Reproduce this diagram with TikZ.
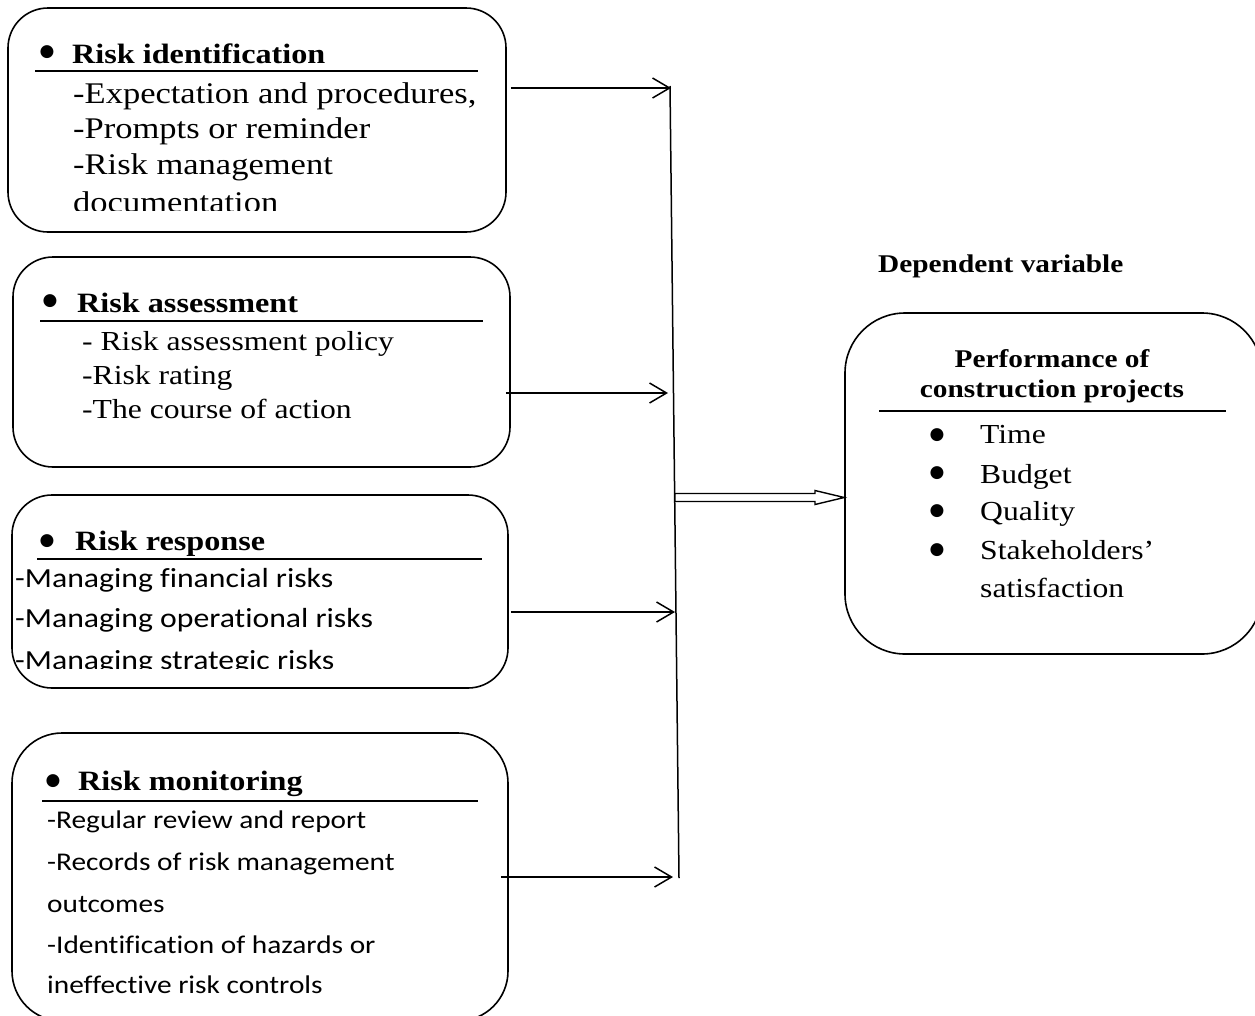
\documentclass[tikz,border=0pt]{standalone}
\usepackage{fontspec}
\setmainfont{Liberation Serif}[FakeStretch=1.15,Ligatures=NoCommon]
\newfontfamily\calib{Carlito}[FakeStretch=1.15,Ligatures=NoCommon]
\newfontfamily\dejavu{DejaVu Sans}
\usetikzlibrary{arrows.meta}
\begin{document}
\begin{tikzpicture}[x=1pt,y=-1pt,
  box/.style={draw, line width=1.6pt, rounded corners=40pt, inner sep=0pt},
  hd/.style={anchor=base west, inner sep=0pt, font=\fontsize{28}{32}\selectfont\bfseries},
  bul/.style={anchor=center, inner sep=0pt, text height=10pt, text depth=0pt, yshift=2.6pt, font=\dejavu\fontsize{17}{17}\selectfont},
  hr/.style={anchor=base, inner sep=0pt, font=\fontsize{25.5}{30}\selectfont\bfseries},
  tx/.style={anchor=base west, inner sep=0pt, font=\fontsize{27.5}{32}\selectfont},
  txa/.style={anchor=base west, inner sep=0pt, font=\fontsize{30}{35}\selectfont},
  cb/.style={anchor=base west, inner sep=0pt, font=\calib\fontsize{27.6}{30}\selectfont},
  cbs/.style={anchor=base west, inner sep=0pt, font=\calib\fontsize{25.5}{30}\selectfont},
  rule/.style={line width=1.4pt},
  conn/.style={line width=1.5pt, -{Straight Barb[length=17pt,width=20pt,line width=1.5pt]}},
  bar/.style={line width=1.5pt},
  hollow/.style={draw, line width=1.4pt, fill=white}]
\useasboundingbox (0,0) rectangle (1255,1015);
\clip (0,0) rectangle (1255,1015);

% ---- boxes ----
\node[box, minimum width=498pt, minimum height=224pt] (b1) at (257,120) {};
\node[box, minimum width=497pt, minimum height=210pt] (b2) at (261.5,362) {};
\node[box, minimum width=496pt, minimum height=193pt] (b3) at (260,591.5) {};
\node[box, rounded corners=50pt, minimum width=496pt, minimum height=288pt] (b4) at (260,877) {};
\node[box, rounded corners=60pt, minimum width=417pt, minimum height=341pt] (b5) at (1053.5,483.5) {};

% ---- box 1 ----
\node[bul] (b1bul) at (47,54) {●};
\node[hd] (b1h) at (72,63) {Risk identification};
\draw[rule] (35,71) -- (478,71);
\begin{scope}
\clip (10,75) rectangle (500,210);
\node[txa] (b1l1) at (73,103) {-Expectation and procedures,};
\node[txa] (b1l2) at (73,138) {-Prompts or reminder};
\node[txa] (b1l3) at (73,174) {-Risk management};
\node[txa] (b1l4) at (73,212) {documentation};
\end{scope}

% ---- box 2 ----
\node[bul] (b2bul) at (50,303.5) {●};
\node[hd] (b2h) at (77,312) {Risk assessment};
\draw[rule] (40,321) -- (483,321);
\node[tx] (b2l1) at (82,350) {- Risk assessment policy};
\node[tx] (b2l2) at (82,384) {-Risk rating};
\node[tx] (b2l3) at (82,418) {-The course of action};

% ---- box 3 ----
\node[bul] (b3bul) at (47,543) {●};
\node[hd] (b3h) at (75,550) {Risk response};
\draw[rule] (37,559) -- (482,559);
\begin{scope}
\clip (14,562) rectangle (505,668);
\node[cb] (b3l1) at (15,587) {-Managing financial risks};
\node[cb] (b3l2) at (15,627) {-Managing operational risks};
\node[cb] (b3l3) at (15,669) {-Managing strategic risks};
\end{scope}

% ---- box 4 ----
\node[bul] (b4bul) at (53,783) {●};
\node[hd] (b4h) at (78,790) {Risk monitoring};
\draw[rule] (42,801) -- (478,801);
\node[cbs] (b4l1) at (47,828) {-Regular review and report};
\node[cbs] (b4l2) at (47,870) {-Records of risk management};
\node[cbs] (b4l3) at (47,912) {outcomes};
\node[cbs] (b4l4) at (47,953) {-Identification of hazards or};
\node[cbs] (b4l5) at (47,993) {ineffective risk controls};

% ---- right box ----
\node[hr, anchor=base west] (dv) at (878,272) {Dependent variable};
\node[hr] (b5h1) at (1052,367) {Performance of};
\node[hr] (b5h2) at (1052,397) {construction projects};
\draw[rule] (879,411) -- (1226,411);
\foreach \yy/\by/\t [count=\i] in {443/437/Time,483/475/Budget,520/513/Quality,559/552/Stakeholders’}{
  \node[bul] (b5bul\i) at (937,\by) {●};
  \node[tx] (b5l\i) at (980,\yy) {\t};
}
\node[tx] (b5l5) at (980,597) {satisfaction};

% ---- connectors ----
\coordinate (barT) at (670,86);
\coordinate (barB) at (679,878);
\coordinate (t1) at (671,88);
\coordinate (t2) at (668,393);
\coordinate (t3) at (675,612);
\coordinate (t4) at (673,877);
\draw[bar] (barT) -- (barB);
\draw[conn] ([xshift=4pt]b1.east |- t1) -- (t1);
\draw[conn] ([xshift=-5pt]b2.east |- t2) -- (t2);
\draw[conn] ([xshift=2pt]b3.east |- t3) -- (t3);
\draw[conn] ([xshift=-8pt]b4.east |- t4) -- (t4);

% hollow block arrow to dependent variable box
\coordinate (ha) at (675,497.5);
\draw[hollow] (ha) ++(0,-4) -- (815,493.5) -- (815,490.5) -- (b5.west |- ha) -- (815,504.5) -- (815,501.5) -- (675,501.5) -- cycle;
\end{tikzpicture}
\end{document}
